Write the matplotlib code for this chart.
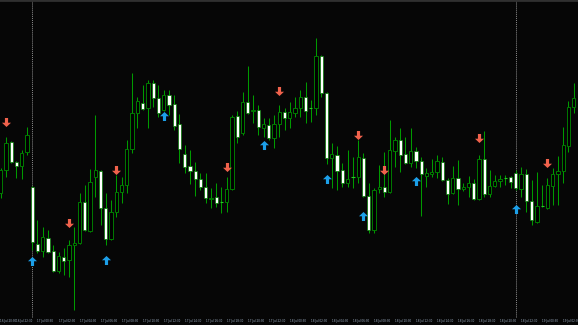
import matplotlib
matplotlib.use("Agg")
import matplotlib.pyplot as plt
from matplotlib.path import Path
import matplotlib.transforms as mtransforms
import numpy as np

# Price levels (chart units, larger value = lower on the chart)
opens = [193, 170, 142, 162, 166, 152, 187, 244, 251, 238,
         251, 271, 257, 260, 245, 243, 202, 231, 177, 171,
         208, 239, 212, 192, 185, 149, 113, 103, 108, 83,
         98, 110, 95, 104, 124, 154, 166, 171, 179, 187,
         199, 197, 202, 202, 189, 116, 133, 102, 111, 110,
         128, 125, 138, 124, 112, 118, 113, 108, 97, 108,
         108, 56, 93, 158, 155, 170, 183, 177, 177, 158,
         196, 230, 189, 187, 192, 151, 140, 154, 163, 151,
         161, 176, 174, 172, 162, 180, 193, 178, 189, 187,
         183, 199, 159, 194, 186, 181, 178, 177, 173, 189,
         174, 201, 222, 206, 208, 186, 174, 171, 146, 107]
highs = [168, 137, 141, 161, 150, 127, 186, 220, 227, 230,
         245, 252, 248, 240, 227, 193, 185, 169, 115, 170,
         193, 200, 175, 177, 140, 73, 97, 85, 80, 80,
         85, 90, 90, 95, 114, 145, 150, 162, 173, 173,
         188, 183, 187, 177, 115, 111, 92, 66, 95, 105,
         118, 118, 115, 105, 108, 102, 97, 90, 82, 100,
         38, 55, 92, 143, 146, 163, 150, 157, 140, 153,
         183, 188, 165, 152, 120, 137, 128, 137, 128, 147,
         157, 168, 159, 155, 157, 178, 166, 160, 183, 176,
         179, 155, 131, 170, 175, 175, 175, 176, 170, 167,
         169, 180, 172, 185, 178, 168, 156, 127, 101, 83]
lows = [198, 177, 163, 178, 179, 155, 250, 253, 257, 253,
        272, 273, 275, 277, 310, 244, 231, 232, 197, 225,
        245, 240, 217, 203, 193, 153, 128, 110, 128, 107,
        117, 111, 115, 130, 163, 173, 184, 196, 190, 203,
        208, 207, 213, 212, 190, 143, 135, 114, 123, 135,
        137, 140, 148, 137, 130, 128, 117, 117, 123, 122,
        115, 97, 164, 188, 190, 187, 187, 188, 183, 197,
        233, 233, 193, 197, 193, 167, 172, 164, 167, 168,
        216, 187, 177, 178, 181, 204, 194, 205, 191, 197,
        200, 200, 197, 197, 187, 187, 185, 188, 190, 197,
        212, 225, 223, 207, 209, 205, 205, 183, 152, 113]
closes = [170, 143, 162, 166, 153, 135, 242, 251, 237, 252,
          271, 256, 261, 245, 243, 202, 230, 182, 170, 208,
          239, 212, 192, 185, 149, 113, 101, 109, 83, 98,
          113, 95, 105, 126, 149, 167, 171, 179, 187, 198,
          198, 203, 202, 189, 117, 137, 102, 113, 110, 127,
          124, 138, 124, 112, 118, 112, 108, 97, 111, 108,
          56, 93, 158, 154, 171, 183, 179, 177, 157, 196,
          230, 190, 187, 192, 150, 140, 155, 163, 151, 161,
          174, 173, 172, 161, 180, 194, 178, 189, 187, 183,
          199, 159, 194, 186, 181, 179, 178, 182, 188, 174,
          201, 220, 206, 206, 185, 174, 171, 145, 107, 98]

# Signal arrows (candle index, level)
sell_idx = [1, 13, 22, 43, 53, 68, 73, 91, 104]
sell_lvl = [122, 223, 170, 167, 91, 135, 170, 138, 163]
buy_idx = [6, 20, 31, 50, 62, 69, 79, 98]
buy_lvl = [261, 260, 116, 145, 179, 216, 181, 209]

# Period separators (candle index)
separators = [6, 98]

# Time axis labels (candle index where each label starts)
tick_idx = [-0.13, 3, 7, 11, 15, 19, 23, 27, 31, 35, 39, 43, 47, 51,
            55, 59, 63, 67, 71, 75, 79, 83, 87, 91, 95, 99, 103, 107]
tick_labels = ["16 Jul 20:30", "16 Jul 22:30", "17 Jul 00:30", "17 Jul 02:30",
               "17 Jul 04:30", "17 Jul 06:30", "17 Jul 08:30", "17 Jul 10:30",
               "17 Jul 12:30", "17 Jul 14:30", "17 Jul 16:30", "17 Jul 18:30",
               "17 Jul 20:30", "17 Jul 22:30", "18 Jul 00:30", "18 Jul 02:30",
               "18 Jul 04:30", "18 Jul 06:30", "18 Jul 08:30", "18 Jul 10:30",
               "18 Jul 12:30", "18 Jul 14:30", "18 Jul 16:30", "18 Jul 18:30",
               "18 Jul 20:30", "18 Jul 22:30", "19 Jul 00:30", "19 Jul 02:30"]

BG = "#060606"
WICK = "#009a00"
EDGE = "#007a00"
DOJI = "#22cc22"

fig = plt.figure(figsize=(5.78, 3.25), dpi=100, facecolor=BG)
ax = fig.add_axes([0, 7 / 325, 1, 318 / 325])
ax.set_facecolor(BG)

o = np.array(opens, float)
h = np.array(highs, float)
l = np.array(lows, float)
c = np.array(closes, float)
x = np.arange(len(o))

for s in separators:
    ax.axvline(s, color="#8c8c8c", lw=0.7, ls=(0, (1, 1)), zorder=0)

ax.vlines(x, h, l, color=WICK, lw=0.75, zorder=1)

w = 0.62
bull = c < o  # moved up on the chart
bear = c > o
doji = c == o
bot = np.minimum(o, c)
hgt = np.abs(o - c)
ax.bar(x[bull], hgt[bull], bottom=bot[bull], width=w, color="black",
       edgecolor=EDGE, linewidth=0.7, zorder=2)
ax.bar(x[bear], hgt[bear], bottom=bot[bear], width=w, color="white",
       edgecolor=EDGE, linewidth=0.5, zorder=2)
ax.hlines(o[doji], x[doji] - w / 2, x[doji] + w / 2, color=DOJI, lw=0.8, zorder=2)

# arrow markers
up_verts = [(0, 1), (1, 0.05), (0.35, 0.05), (0.35, -1), (-0.35, -1),
            (-0.35, 0.05), (-1, 0.05), (0, 1)]
up_codes = [Path.MOVETO] + [Path.LINETO] * 6 + [Path.CLOSEPOLY]
up_arrow = Path(up_verts, up_codes)
down_arrow = Path([(vx, -vy) for vx, vy in up_verts], up_codes)

ax.plot(buy_idx, buy_lvl, ls="none", marker=up_arrow, ms=6.5,
        color="#1c9fe8", mec="#1c9fe8", mew=0, zorder=3)
ax.plot(sell_idx, sell_lvl, ls="none", marker=down_arrow, ms=6.5,
        color="#f0624c", mec="#f0624c", mew=0, zorder=3)

for sp in ["left", "right", "bottom"]:
    ax.spines[sp].set_visible(False)
ax.spines["top"].set_color("#303030")
ax.spines["top"].set_linewidth(2.0)

ax.set_yticks([])
ax.set_xticks([])

trans = mtransforms.blended_transform_factory(ax.transData, fig.transFigure)
for ti, tl in zip(tick_idx, tick_labels):
    ax.text(ti, 3.6 / 325, tl, transform=trans, fontsize=2.0,
            family=["Liberation Sans Narrow", "DejaVu Sans"],
            color="#9fb0c4", ha="left", va="center", clip_on=False)

ax.set_xlim(-0.13, 109.82)
ax.set_ylim(318, 0)

fig.savefig("out.png", dpi=100, facecolor=BG)
